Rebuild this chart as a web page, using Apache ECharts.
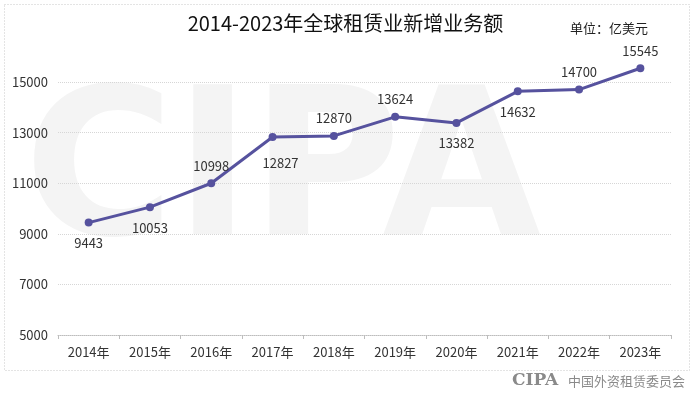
<!DOCTYPE html>
<html>
<head>
<meta charset="utf-8">
<script src="https://cdn.jsdelivr.net/npm/echarts@6.0.0/dist/echarts.min.js"></script>
<style>
  html, body { margin: 0; padding: 0; background: #fff; }
  #chart { width: 691px; height: 398px; }
</style>
</head>
<body>
<div id="chart"></div>
<script>
  var years = ["2014年", "2015年", "2016年", "2017年", "2018年", "2019年", "2020年", "2021年", "2022年", "2023年"];
  var amounts = [9443, 10053, 10998, 12827, 12870, 13624, 13382, 14632, 14700, 15545];
  // which labels sit under the point
  var labelBelow = [true, true, false, true, false, false, true, true, false, false];

  var fontFamily = "'Noto Sans CJK SC', 'Noto Sans', sans-serif";

  var points = amounts.map(function (v, i) {
    var lbl = { position: labelBelow[i] ? "bottom" : "top", distance: labelBelow[i] ? 10 : 7 };
    if (i === 3) lbl.offset = [8, 6];
    return { value: v, label: lbl };
  });

  var chart = echarts.init(document.getElementById("chart"));
  chart.setOption({
    animation: false,
    backgroundColor: "#fff",
    textStyle: { fontFamily: fontFamily },
    title: {
      text: "2014-2023年全球租赁业新增业务额",
      left: "center",
      top: 8,
      textStyle: { fontSize: 20, fontWeight: "normal", color: "#111" }
    },
    graphic: [
      {
        type: "rect", left: 2, top: 2, z: -10,
        shape: { width: 685, height: 366 },
        style: { fill: "none", stroke: "#c8c8c8", lineWidth: 1, lineDash: [1, 2] }
      },
      {
        type: "text", left: 24, top: 78, z: -5,
        style: { text: "CIPA", font: "bold 205px 'DejaVu Sans', sans-serif", fill: "#f4f4f4" }
      },
      {
        type: "text", left: 570, top: 22,
        style: { text: "单位：亿美元", font: "13px " + fontFamily, fill: "#222" }
      },
      {
        type: "text", left: 512, top: 372,
        style: { text: "CIPA", font: "bold 17px 'DejaVu Serif', serif", fill: "#8a8a8a" }
      },
      {
        type: "text", left: 568, top: 375,
        style: { text: "中国外资租赁委员会", font: "13px 'Noto Sans CJK SC', serif", fill: "#8a8a8a" }
      }
    ],
    grid: { left: 58, right: 20, top: 82, bottom: 63 },
    xAxis: {
      type: "category",
      data: years,
      boundaryGap: true,
      axisLine: { lineStyle: { color: "#bdbdbd", type: "dotted" } },
      axisTick: { show: true, alignWithLabel: false, length: 4, lineStyle: { color: "#bdbdbd" } },
      axisLabel: { color: "#333", fontSize: 13, margin: 11 }
    },
    yAxis: {
      type: "value",
      min: 5000,
      max: 15000,
      interval: 2000,
      axisLine: { show: false },
      axisTick: { show: false },
      axisLabel: { color: "#333", fontSize: 13, margin: 10, formatter: function (v) { return String(v); } },
      splitLine: { lineStyle: { color: "#d6d6d6", type: "dotted" } }
    },
    series: [
      {
        type: "line",
        data: points,
        clip: false,
        symbol: "circle",
        symbolSize: 8,
        lineStyle: { color: "#56529e", width: 3 },
        itemStyle: { color: "#56529e" },
        label: { show: true, color: "#333", fontSize: 13 }
      }
    ]
  });
</script>
</body>
</html>
